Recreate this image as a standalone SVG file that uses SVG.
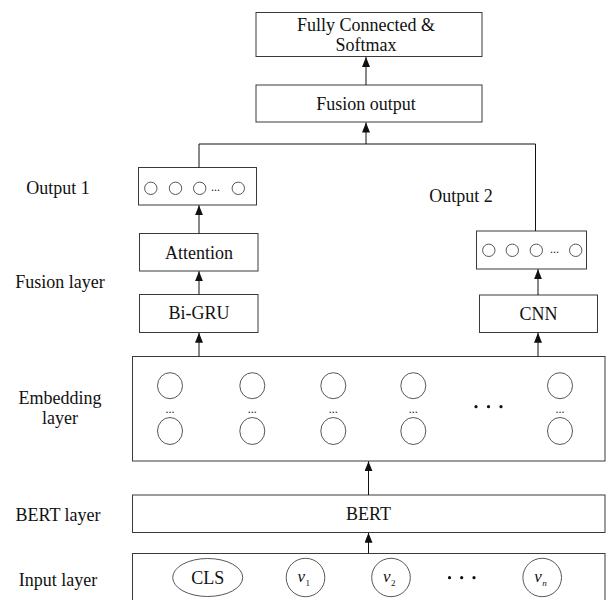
<svg xmlns="http://www.w3.org/2000/svg" width="606" height="600" viewBox="0 0 606 600">
<style>
.box{fill:#fff;stroke:#3a3a3a;stroke-width:1}
.t{font-family:"Liberation Serif","Times New Roman",serif;font-size:18px;fill:#111;text-anchor:middle}
.lab{font-family:"Liberation Serif","Times New Roman",serif;font-size:18px;fill:#111;text-anchor:middle}
.c{fill:#fff;stroke:#444;stroke-width:0.9}
.sc{fill:#fff;stroke:#444;stroke-width:0.9}
.dd{font-family:"Liberation Serif","Times New Roman",serif;font-size:12px;fill:#222;text-anchor:middle}
.dot{fill:#111}
.v{font-family:"Liberation Serif","Times New Roman",serif;font-size:17px;font-style:italic;fill:#111}
.sub{font-family:"Liberation Serif","Times New Roman",serif;font-size:9px;fill:#111}
.conn{fill:none;stroke:#111;stroke-width:1}
</style>
<defs>
<marker id="arr" markerUnits="userSpaceOnUse" markerWidth="10" markerHeight="8" refX="10" refY="4" orient="auto">
<path d="M0,0 L10,4 L0,8 z" fill="#111"/>
</marker>
</defs>
<rect width="606" height="600" fill="#fff"/>

<g id="labels">
<text class="lab" x="58" y="193.5">Output 1</text>
<text class="lab" x="461" y="201.5">Output 2</text>
<text class="lab" x="60" y="288">Fusion layer</text>
<text class="lab" x="60" y="404">Embedding</text>
<text class="lab" x="60" y="424">layer</text>
<text class="lab" x="58" y="521">BERT layer</text>
<text class="lab" x="58" y="585.5">Input layer</text>
</g>

<g id="fc">
<rect class="box" x="256" y="12.5" width="226" height="44"/>
<text class="t" x="366" y="31">Fully Connected &amp;</text>
<text class="t" x="366" y="51">Softmax</text>
</g>

<g id="fusion">
<rect class="box" x="256" y="85" width="226" height="37"/>
<text class="t" x="366" y="110">Fusion output</text>
</g>

<g id="out1">
<rect class="box" x="138.5" y="167.5" width="118" height="37.5"/>
<circle class="sc" cx="150.8" cy="188.3" r="6.2"/>
<circle class="sc" cx="175.5" cy="188.3" r="6.2"/>
<circle class="sc" cx="199.7" cy="188.3" r="6.2"/>
<text class="dd" x="215.5" y="191">...</text>
<circle class="sc" cx="238.3" cy="188.3" r="6.2"/>
</g>

<g id="attention">
<rect class="box" x="139.5" y="233.5" width="118.5" height="37.5"/>
<text class="t" x="199" y="258.5">Attention</text>
</g>

<g id="bigru">
<rect class="box" x="139.5" y="294.5" width="118.5" height="38"/>
<text class="t" x="199" y="319">Bi-GRU</text>
</g>

<g id="out2">
<rect class="box" x="476.5" y="231" width="110" height="38"/>
<circle class="sc" cx="488.8" cy="250.3" r="6.2"/>
<circle class="sc" cx="512.3" cy="250.3" r="6.2"/>
<circle class="sc" cx="536.3" cy="250.3" r="6.2"/>
<text class="dd" x="554.5" y="253">...</text>
<circle class="sc" cx="575.7" cy="250.3" r="6.2"/>
</g>

<g id="cnn">
<rect class="box" x="479.5" y="295" width="118" height="37.5"/>
<text class="t" x="538.5" y="320">CNN</text>
</g>

<g id="embedding">
<rect class="box" x="132.5" y="356.5" width="472.5" height="104.5"/>
<ellipse class="c" cx="170" cy="385.7" rx="12.5" ry="13"/>
<ellipse class="c" cx="170" cy="431" rx="12.5" ry="13.5"/>
<text class="dd" x="170" y="413">...</text>
<ellipse class="c" cx="252.3" cy="385.7" rx="12.5" ry="13"/>
<ellipse class="c" cx="252.3" cy="431" rx="12.5" ry="13.5"/>
<text class="dd" x="252.3" y="413">...</text>
<ellipse class="c" cx="333.3" cy="385.7" rx="12.5" ry="13"/>
<ellipse class="c" cx="333.3" cy="431" rx="12.5" ry="13.5"/>
<text class="dd" x="333.3" y="413">...</text>
<ellipse class="c" cx="413.3" cy="385.7" rx="12.5" ry="13"/>
<ellipse class="c" cx="413.3" cy="431" rx="12.5" ry="13.5"/>
<text class="dd" x="413.3" y="413">...</text>
<circle class="dot" cx="476" cy="406.7" r="1.6"/>
<circle class="dot" cx="488.5" cy="406.7" r="1.6"/>
<circle class="dot" cx="501" cy="406.7" r="1.6"/>
<ellipse class="c" cx="560" cy="385.7" rx="12.5" ry="13"/>
<ellipse class="c" cx="560" cy="431" rx="12.5" ry="13.5"/>
<text class="dd" x="560" y="413">...</text>
</g>

<g id="bert">
<rect class="box" x="132.5" y="495" width="472.5" height="37.5"/>
<text class="t" x="368.5" y="520">BERT</text>
</g>

<g id="input">
<rect class="box" x="132.5" y="553.5" width="472.5" height="60"/>
<ellipse class="c" cx="207.7" cy="577.5" rx="35" ry="19"/>
<text class="t" x="207.8" y="583.5">CLS</text>
<ellipse class="c" cx="305.5" cy="577.5" rx="19.3" ry="19.2"/>
<text class="v" x="297.5" y="582">v</text><text class="sub" x="305.5" y="586">1</text>
<ellipse class="c" cx="391" cy="577.5" rx="19.3" ry="19.2"/>
<text class="v" x="383" y="582">v</text><text class="sub" x="391" y="586">2</text>
<circle class="dot" cx="449.5" cy="577.7" r="1.6"/>
<circle class="dot" cx="461.7" cy="577.7" r="1.6"/>
<circle class="dot" cx="474" cy="577.7" r="1.6"/>
<ellipse class="c" cx="542.2" cy="577.5" rx="19.3" ry="19.2"/>
<text class="v" x="534.2" y="582">v</text><text class="sub" x="542.2" y="586" font-style="italic">n</text>
</g>

<g id="connectors">
<line class="conn" x1="366" y1="85" x2="366" y2="57" marker-end="url(#arr)"/>
<line class="conn" x1="366" y1="144" x2="366" y2="122.5" marker-end="url(#arr)"/>
<polyline class="conn" points="199,167.5 199,144 535.5,144 535.5,231"/>
<line class="conn" x1="199" y1="233.5" x2="199" y2="205.3" marker-end="url(#arr)"/>
<line class="conn" x1="199" y1="294.5" x2="199" y2="271.3" marker-end="url(#arr)"/>
<line class="conn" x1="199" y1="356.5" x2="199" y2="332.8" marker-end="url(#arr)"/>
<line class="conn" x1="538" y1="295" x2="538" y2="269.3" marker-end="url(#arr)"/>
<line class="conn" x1="538" y1="356.5" x2="538" y2="332.8" marker-end="url(#arr)"/>
<line class="conn" x1="368.5" y1="495" x2="368.5" y2="461.3" marker-end="url(#arr)"/>
<line class="conn" x1="368.5" y1="553.5" x2="368.5" y2="532.8" marker-end="url(#arr)"/>
</g>
</svg>
